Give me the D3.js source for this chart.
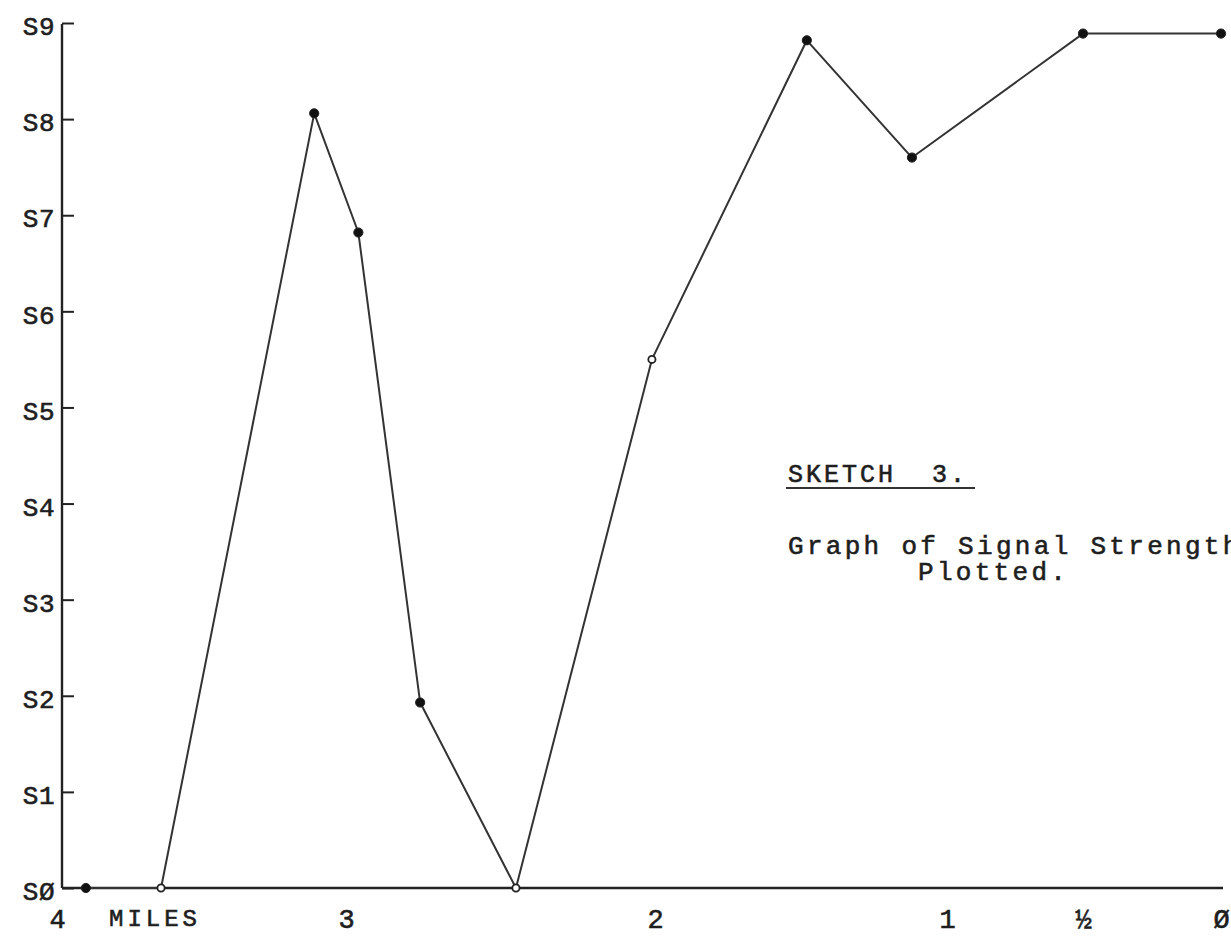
<!DOCTYPE html>
<html>
<head>
<meta charset="utf-8">
<script src="https://cdn.jsdelivr.net/npm/d3@7"></script>
<style>
  html, body { margin: 0; padding: 0; background: #fff; }
  svg { display: block; }
  .type {
    font-family: "Liberation Mono", "DejaVu Sans Mono", monospace;
    fill: #1e1e1e;
    stroke: #1e1e1e;
    stroke-width: 0.6px;
  }
</style>
</head>
<body>
<div id="chart"></div>
<script>
// distance in miles (4 miles on the left, 0 on the right)
const miles = [3.9, 3.64, 3.11, 2.96, 2.76, 2.45, 2.01, 1.48, 1.12, 0.5, 0];
// signal strength on the S scale
const signal = [0, 0, 8.06, 6.82, 1.93, 0, 5.5, 8.82, 7.6, 8.89, 8.89];
// open (hollow) markers vs filled dots
const hollow = [false, true, false, false, false, true, true, false, false, false, false];

const xTicks = [4, 3, 2, 1, 0.5, 0];
const xTickLabels = ['4', '3', '2', '1', '½', 'Ø'];
const yTicks = [0, 1, 2, 3, 4, 5, 6, 7, 8, 9];
const yTickLabels = ['SØ', 'S1', 'S2', 'S3', 'S4', 'S5', 'S6', 'S7', 'S8', 'S9'];

const width = 1231;
const height = 936;
const axisX = 62;

const svg = d3.select('#chart').append('svg')
  .attr('width', width)
  .attr('height', height)
  .attr('viewBox', `0 0 ${width} ${height}`);

// hand-drawn sketch: the mile marks are not evenly spaced, so use a piecewise scale
const x = d3.scaleLinear()
  .domain(xTicks)
  .range([57, 346, 655, 947, 1083, 1221]);
const y = d3.scaleLinear().domain([0, 9]).range([888, 23]);

// y axis, ticks pointing into the plot
svg.append('g')
  .attr('transform', `translate(${axisX},0)`)
  .call(d3.axisLeft(y).tickValues(yTicks).tickFormat((d, i) => yTickLabels[i])
    .tickSizeInner(-12).tickSizeOuter(0).tickPadding(7))
  .call((g) => {
    g.select('.domain').attr('stroke', '#222').attr('stroke-width', 2.4)
      .attr('d', `M0,${y(0)}V${y(9) + 1}`);
    g.selectAll('.tick line').attr('stroke', '#222').attr('stroke-width', 2);
    g.selectAll('.tick text')
      .attr('class', 'type')
      .attr('font-size', 26)
      .attr('letter-spacing', 0.5)
      .attr('dy', '0.45em')
      .attr('x', -7);
  });

// x axis
svg.append('g')
  .attr('transform', `translate(0,${y(0)})`)
  .call(d3.axisBottom(x).tickValues(xTicks).tickFormat((d, i) => xTickLabels[i])
    .tickSize(0).tickPadding(17))
  .call((g) => {
    g.select('.domain').attr('stroke', '#222').attr('stroke-width', 2.6)
      .attr('d', `M${axisX},0H${x(0) + 2}`);
    g.selectAll('.tick text')
      .attr('class', 'type')
      .attr('font-size', 27)
      .attr('dy', '0.85em');
  });

svg.append('text')
  .attr('class', 'type')
  .attr('x', 155)
  .attr('y', y(0) + 38)
  .attr('text-anchor', 'middle')
  .attr('font-size', 24)
  .attr('letter-spacing', 4)
  .text('MILES');

// signal strength trace
const pts = miles.map((m, i) => ({ m, s: signal[i], open: hollow[i] }));
const line = d3.line().x((d) => x(d.m)).y((d) => y(d.s));

svg.append('path')
  .datum(pts)
  .attr('d', line)
  .attr('fill', 'none')
  .attr('stroke', '#333')
  .attr('stroke-width', 2)
  .attr('stroke-linejoin', 'round');

svg.selectAll('circle.pt')
  .data(pts)
  .join('circle')
  .attr('class', 'pt')
  .attr('cx', (d) => x(d.m))
  .attr('cy', (d) => y(d.s))
  .attr('r', (d) => (d.open ? 3.6 : 4.6))
  .attr('fill', (d) => (d.open ? '#fff' : '#111'))
  .attr('stroke', '#222')
  .attr('stroke-width', (d) => (d.open ? 1.8 : 1));

// caption
svg.append('text')
  .attr('class', 'type')
  .attr('x', 788)
  .attr('y', 482)
  .attr('font-size', 25)
  .attr('letter-spacing', 3)
  .attr('xml:space', 'preserve')
  .text('SKETCH  3.');
svg.append('line')
  .attr('x1', 786).attr('x2', 975)
  .attr('y1', 488).attr('y2', 488)
  .attr('stroke', '#333').attr('stroke-width', 2);

svg.append('text')
  .attr('class', 'type')
  .attr('x', 788)
  .attr('y', 554)
  .attr('font-size', 26)
  .attr('letter-spacing', 3.3)
  .text('Graph of Signal Strength');
svg.append('text')
  .attr('class', 'type')
  .attr('x', 918)
  .attr('y', 580)
  .attr('font-size', 26)
  .attr('letter-spacing', 3.3)
  .text('Plotted.');
</script>
</body>
</html>
